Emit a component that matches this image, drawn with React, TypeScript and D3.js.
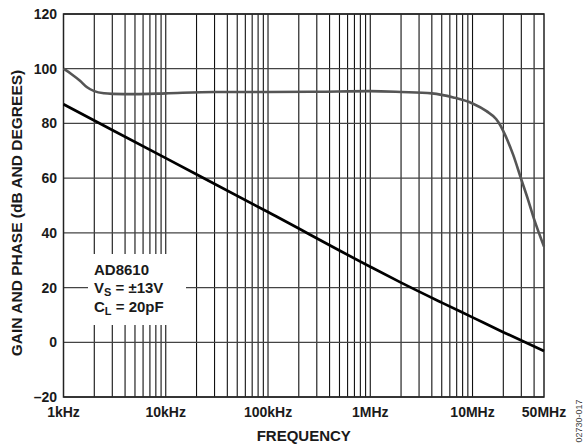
import React from 'react';
import * as d3 from 'd3';

const gainFreq = [1e3, 1e4, 1e5, 1e6, 2e6, 5e6, 1e7, 2e7, 5e7];
const gainDb = [87, 67.3, 47.6, 27.6, 21.8, 14.5, 9.1, 3.7, -3.2];

const phaseFreq = [1e3, 1.2e3, 1.45e3, 1.7e3, 2e3, 2.5e3, 3e3, 5e3, 1e4, 3e4, 1e5, 3e5, 1e6, 2e6, 4e6, 6.5e6, 1e7, 1.37e7, 1.7e7, 1.85e7, 2e7, 2.5e7, 3e7, 3.5e7, 4e7, 5e7];
const phaseDeg = [100, 98, 95.6, 93.2, 91.8, 91, 90.8, 90.7, 91, 91.5, 91.5, 91.6, 91.8, 91.5, 91, 89.5, 87.3, 84.5, 81.6, 79.6, 77.2, 68.5, 59.5, 52, 45, 35];

const yTicks = [-20, 0, 20, 40, 60, 80, 100, 120];
const yTickLabels = ['–20', '0', '20', '40', '60', '80', '100', '120'];
const xTicks = [1e3, 1e4, 1e5, 1e6, 1e7, 5e7];
const xTickLabels = ['1kHz', '10kHz', '100kHz', '1MHz', '10MHz', '50MHz'];

const xTitle = 'FREQUENCY';
const yTitle = 'GAIN AND PHASE (dB AND DEGREES)';
const noteTitle = 'AD8610';
const figId = '02730-017';

export default function App() {
  const L = 63.5, R = 544, T = 14, B = 397;
  const x = d3.scaleLog().domain([1e3, 5e7]).range([L, R]);
  const y = d3.scaleLinear().domain([-20, 120]).range([B, T]);

  const minor: number[] = [];
  for (let e = 3; e <= 7; e++) {
    for (let m = 1; m <= 9; m++) {
      const f = m * Math.pow(10, e);
      if (f > 1e3 && f < 5e7) minor.push(f);
    }
  }

  const gainLine = d3.line<number>()
    .x((_, i) => x(gainFreq[i]))
    .y((d) => y(d))
    .curve(d3.curveMonotoneX);
  const phaseLine = d3.line<number>()
    .x((_, i) => x(phaseFreq[i]))
    .y((d) => y(d))
    .curve(d3.curveMonotoneX);

  const font = 'Arial, "Liberation Sans", Helvetica, sans-serif';

  return (
    <svg width={584} height={447} style={{ position: 'absolute', left: 0, top: 0, background: '#fff' }} fontFamily={font}>
      {minor.map((f) => (
        <line key={'v' + f} x1={x(f)} x2={x(f)} y1={T} y2={B} stroke="#111" strokeWidth={1.1} />
      ))}
      {yTicks.map((v) => (
        <line key={'h' + v} x1={L} x2={R} y1={y(v)} y2={y(v)} stroke="#444" strokeWidth={1.3} />
      ))}
      <rect x={88} y={254} width={98} height={71} fill="#fff" />
      <rect x={L} y={T} width={R - L} height={B - T} fill="none" stroke="#222" strokeWidth={1.5} />

      <path d={phaseLine(phaseDeg) || ''} fill="none" stroke="#555" strokeWidth={2.6} strokeLinejoin="round" />
      <path d={gainLine(gainDb) || ''} fill="none" stroke="#000" strokeWidth={2.7} strokeLinejoin="round" />

      {yTicks.map((v, i) => (
        <text key={'yl' + v} x={57} y={y(v) + 5} textAnchor="end" fontSize={14} fontWeight="bold" fill="#1a1a1a">
          {yTickLabels[i]}
        </text>
      ))}
      {xTicks.map((f, i) => (
        <text key={'xl' + f} x={x(f)} y={417} textAnchor="middle" fontSize={14} fontWeight="bold" fill="#1a1a1a">
          {xTickLabels[i]}
        </text>
      ))}

      <text x={(L + R) / 2} y={441} textAnchor="middle" fontSize={15} fontWeight="bold" fill="#1a1a1a">{xTitle}</text>
      <text transform={`translate(22,213) rotate(-90)`} textAnchor="middle" fontSize={15.5} fontWeight="bold" fill="#1a1a1a">{yTitle}</text>

      <g fontSize={15} fontWeight="bold" fill="#1a1a1a">
        <text x={94} y={275}>{noteTitle}</text>
        <text x={94} y={293}>V<tspan fontSize={11} dy={3}>S</tspan><tspan dy={-3}> = ±13V</tspan></text>
        <text x={94} y={311.5}>C<tspan fontSize={11} dy={3}>L</tspan><tspan dy={-3}> = 20pF</tspan></text>
      </g>

      <text transform="translate(582,421) rotate(-90)" textAnchor="middle" fontSize={9} fill="#444">{figId}</text>
    </svg>
  );
}
